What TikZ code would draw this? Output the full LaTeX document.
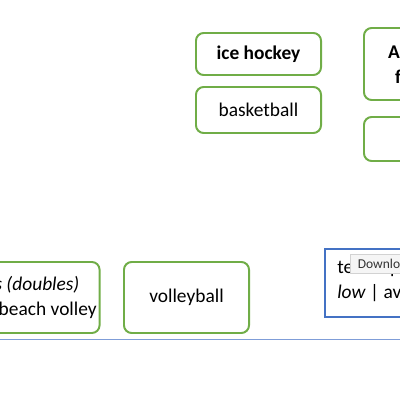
\documentclass[tikz,border=0pt]{standalone}
\usepackage{fontspec}
\setmainfont{Carlito}
\definecolor{boxgreen}{HTML}{70AD47}
\definecolor{boxblue}{HTML}{4472C4}
\definecolor{rulecol}{HTML}{7F9DD8}
\tikzset{
  sportbox/.style={draw=boxgreen, line width=1.4pt, rounded corners=5.5pt,
    minimum width=3.125cm, align=center, inner sep=2pt,
    font=\fontsize{13.8}{17.8}\selectfont},
  levelbox/.style={draw=boxblue, line width=1.2pt, align=left,
    minimum width=4cm, minimum height=1.7cm, inner sep=0pt},
  leveltext/.style={anchor=base west, inner sep=0pt,
    font=\fontsize{13.8}{17.8}\selectfont},
  tipbox/.style={draw=gray!35, fill=gray!8, inner sep=0pt, text depth=0pt,
    minimum height=0.475cm, minimum width=1.6cm, font=\fontsize{9.6}{11}\selectfont, text=black!80}
}
\begin{document}
\begin{tikzpicture}[x=0.025cm,y=-0.025cm]
		\useasboundingbox (0,0) rectangle (400,400);
		\clip (0,0) rectangle (400,400);
		\node[sportbox, minimum height=1.05cm, font=\fontsize{13.8}{17.8}\selectfont\bfseries] (hockey) at (258.5,54) {ice hockey};
		\node[sportbox, minimum height=1.15cm] (basket) at (258.5,110) {basketball};
		\node[sportbox, minimum height=1.8cm, font=\fontsize{13.8}{17.8}\selectfont\bfseries] (football) at (426.5,64) {American\\football};
		\node[sportbox, minimum height=1.1cm] (empty) at (426.5,139) {};
		\node[sportbox, minimum width=4.05cm, minimum height=1.775cm] (doubles) at (17,297.5) {\textit{tennis (doubles)}\\padel | beach volley};
		\node[sportbox, minimum height=1.775cm] (volley) at (186.5,297.5) {volleyball};
		\node[levelbox, anchor=north west] (team) at (324,248) {};
		\node[leveltext] (teamtxt) at (337,273) {team sports};
		\node[leveltext] (leveltxt) at (337,298) {\textit{low} | average};
		\node[tipbox, anchor=north west] (tip) at (350,254) {\hspace*{5pt}Download\hfill};
		\coordinate (rulel) at (0,339);
		\coordinate (ruler) at (400,339);
		\draw[rulecol, line width=0.6pt] (rulel) -- (ruler);
\end{tikzpicture}
\end{document}
